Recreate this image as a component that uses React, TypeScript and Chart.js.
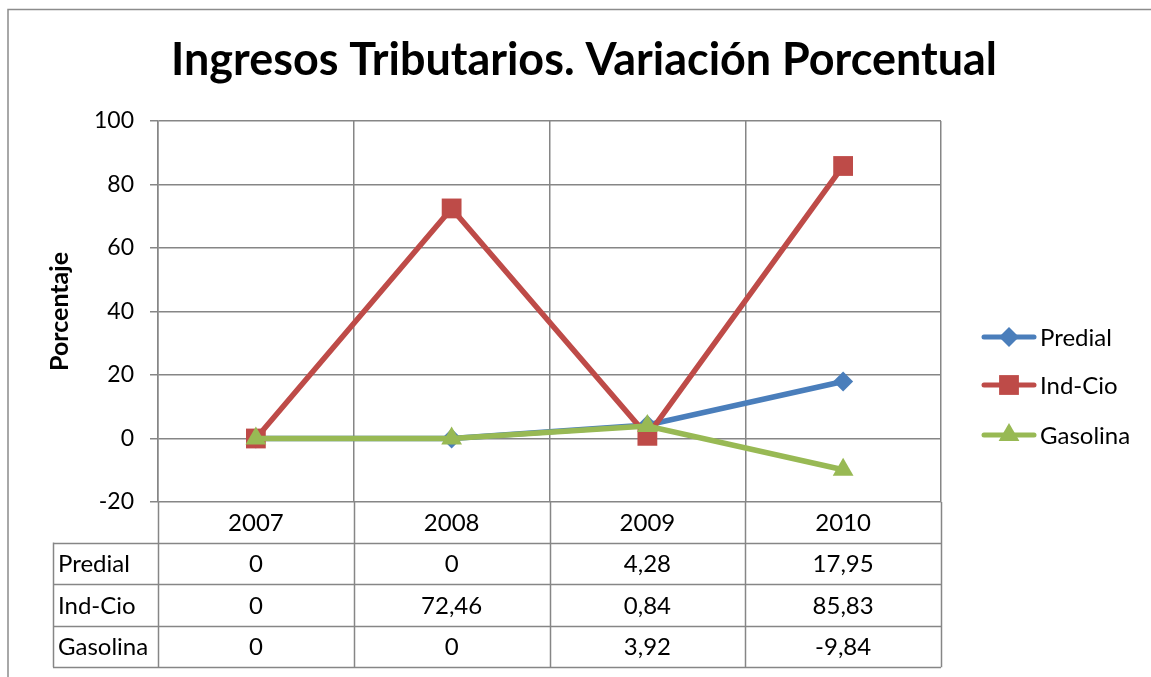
import React, { useEffect, useRef } from "react";
import { Chart, registerables } from "chart.js";

Chart.register(...registerables);

const categories = ["2007", "2008", "2009", "2010"];
const seriesNames = ["Predial", "Ind-Cio", "Gasolina"];
const predial = [0, 0, 4.28, 17.95];
const indCio = [0, 72.46, 0.84, 85.83];
const gasolina = [0, 0, 3.92, -9.84];
const yMin = -20;
const yMax = 100;
const yStep = 20;
const chartTitle = "Ingresos Tributarios. Variación Porcentual";
const yTitle = "Porcentaje";

const colors = ["#4A7EBB", "#BE4B48", "#98B954"];
const pointStyles = ["rectRot", "rect", "triangle"];
const pointRadii = [10, 14, 12];
const seriesValues = [predial, indCio, gasolina];

const FONT = "Lato, 'Open Sans', sans-serif";
const GRID = "#868686";

const fmt = (v: number) => String(v).replace(".", ",");

function drawMarker(ctx: CanvasRenderingContext2D, style: string, x: number, y: number, r: number) {
  ctx.beginPath();
  if (style === "rectRot") {
    ctx.moveTo(x, y - r);
    ctx.lineTo(x + r, y);
    ctx.lineTo(x, y + r);
    ctx.lineTo(x - r, y);
  } else if (style === "rect") {
    const s = r * Math.SQRT1_2;
    ctx.rect(x - s, y - s, 2 * s, 2 * s);
  } else {
    const h = r * Math.sqrt(3) / 2;
    ctx.moveTo(x, y - r);
    ctx.lineTo(x + h, y + r / 2);
    ctx.lineTo(x - h, y + r / 2);
  }
  ctx.closePath();
  ctx.fill();
}

const decorPlugin = {
  id: "decor",
  afterDraw(chart: any) {
    const ctx: CanvasRenderingContext2D = chart.ctx;
    const area = chart.chartArea;
    const xs = chart.scales.x;
    ctx.save();

    // outer frame (top and left)
    ctx.strokeStyle = "#8C8C8C";
    ctx.lineWidth = 1.5;
    ctx.beginPath();
    ctx.moveTo(8, 677);
    ctx.lineTo(8, 9.5);
    ctx.lineTo(1151, 9.5);
    ctx.stroke();

    // title
    ctx.fillStyle = "#000";
    let size = 40;
    ctx.font = `bold ${size}px ${FONT}`;
    const w = ctx.measureText(chartTitle).width;
    size = size * 826 / w;
    ctx.font = `bold ${size}px ${FONT}`;
    ctx.textAlign = "center";
    ctx.textBaseline = "alphabetic";
    ctx.fillText(chartTitle, 584, 75);

    // y axis title
    ctx.save();
    ctx.translate(68, (area.top + area.bottom) / 2);
    ctx.rotate(-Math.PI / 2);
    ctx.font = `bold 25px ${FONT}`;
    ctx.textAlign = "center";
    ctx.textBaseline = "alphabetic";
    ctx.fillText(yTitle, 0, 0);
    ctx.restore();

    // data table
    const n = categories.length;
    const colW = (area.right - area.left) / n;
    const headerTop = area.bottom;
    const headerBottom = 542.5;
    const rowH = 41.6;
    const tableLeft = 53;
    const tableBottom = headerBottom + rowH * seriesNames.length;
    ctx.strokeStyle = GRID;
    ctx.lineWidth = 1.5;
    ctx.beginPath();
    for (let i = 0; i <= n; i++) {
      const x = Math.round(area.left + colW * i) + 0.5;
      ctx.moveTo(x, headerTop);
      ctx.lineTo(x, tableBottom);
    }
    ctx.moveTo(tableLeft + 0.5, headerBottom);
    ctx.lineTo(tableLeft + 0.5, tableBottom);
    for (let r = 0; r <= seriesNames.length; r++) {
      const y = Math.round(headerBottom + rowH * r) + 0.5;
      ctx.moveTo(tableLeft, y);
      ctx.lineTo(area.right, y);
    }
    ctx.stroke();

    ctx.fillStyle = "#000";
    ctx.font = `24px ${FONT}`;
    ctx.textBaseline = "middle";
    ctx.textAlign = "center";
    categories.forEach((c, i) => {
      ctx.fillText(c, xs.getPixelForValue(i), (headerTop + headerBottom) / 2 + 1);
    });
    seriesNames.forEach((name, r) => {
      const cy = headerBottom + rowH * r + rowH / 2 + 1;
      ctx.textAlign = "left";
      ctx.fillText(name, tableLeft + 5, cy);
      ctx.textAlign = "center";
      seriesValues[r].forEach((v, i) => {
        ctx.fillText(fmt(v), xs.getPixelForValue(i), cy);
      });
    });

    // legend
    const legendY = [337, 385, 435];
    seriesNames.forEach((name, r) => {
      const y = legendY[r];
      ctx.strokeStyle = colors[r];
      ctx.fillStyle = colors[r];
      ctx.lineWidth = 5;
      ctx.lineCap = "round";
      ctx.beginPath();
      ctx.moveTo(984, y);
      ctx.lineTo(1034, y);
      ctx.stroke();
      drawMarker(ctx, pointStyles[r], 1009, y, pointRadii[r]);
      ctx.fillStyle = "#000";
      ctx.font = `24px ${FONT}`;
      ctx.textAlign = "left";
      ctx.textBaseline = "middle";
      ctx.fillText(name, 1040, y + 1);
    });

    ctx.restore();
  },
};

export default function App() {
  const ref = useRef<HTMLCanvasElement | null>(null);

  useEffect(() => {
    if (!ref.current) return;
    const chart = new Chart(ref.current, {
      type: "line",
      data: {
        labels: categories,
        datasets: seriesNames.map((name, i) => ({
          label: name,
          data: seriesValues[i],
          borderColor: colors[i],
          backgroundColor: colors[i],
          borderWidth: 5.5,
          tension: 0,
          pointStyle: pointStyles[i] as any,
          pointRadius: pointRadii[i],
          pointBorderWidth: 0,
          pointBackgroundColor: colors[i],
          pointBorderColor: colors[i],
          order: 2 - i,
          clip: false as any,
        })),
      },
      options: {
        animation: false,
        responsive: false,
        maintainAspectRatio: false,
        layout: { padding: { top: 121, right: 210, left: 0, bottom: 0 } },
        plugins: {
          legend: { display: false },
          title: { display: false },
          tooltip: { enabled: false },
        },
        scales: {
          x: {
            type: "category",
            offset: true,
            grid: { offset: true, color: GRID, lineWidth: 1.5, drawTicks: false },
            border: { display: false },
            ticks: { display: false },
            afterFit: (s: any) => {
              s.height = 175;
            },
          },
          y: {
            min: yMin,
            max: yMax,
            ticks: {
              stepSize: yStep,
              color: "#000",
              font: { family: FONT, size: 23 },
              padding: 16,
            },
            grid: { color: GRID, lineWidth: 1.5, tickLength: 8 },
            border: { display: true, color: GRID, width: 1.5 },
            afterFit: (s: any) => {
              s.width = 158;
            },
          },
        },
      },
      plugins: [decorPlugin],
    });
    return () => chart.destroy();
  }, []);

  return (
    <div style={{ position: "fixed", left: 0, top: 0, width: 1151, height: 677, background: "#fff" }}>
      <canvas ref={ref} width={1151} height={677} style={{ display: "block" }} />
    </div>
  );
}
